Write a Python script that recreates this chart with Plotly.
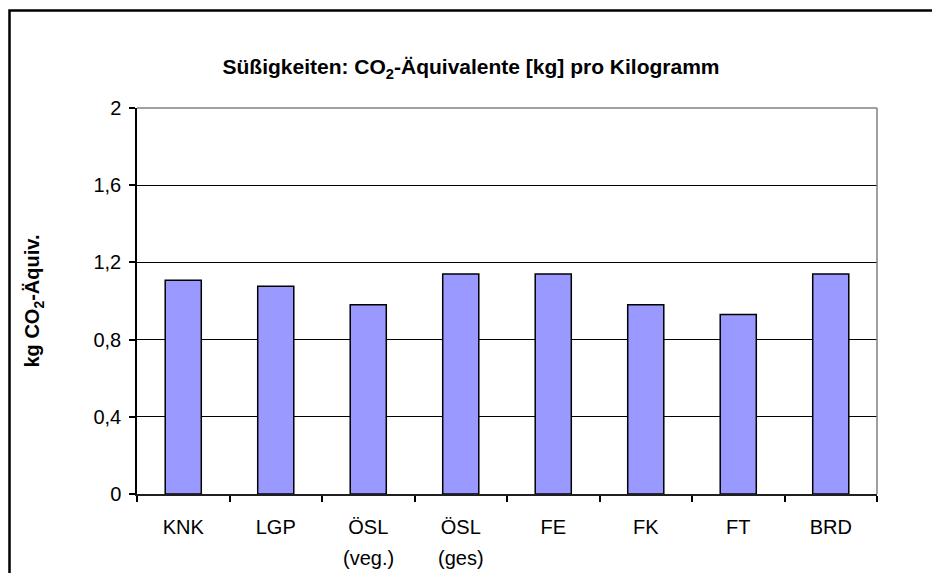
import plotly.graph_objects as go

categories = ["KNK", "LGP", "ÖSL", "ÖSL", "FE", "FK", "FT", "BRD"]
category_ids = ["KNK", "LGP", "ÖSL (veg.)", "ÖSL (ges)", "FE", "FK", "FT", "BRD"]
second_line = ["", "", "(veg.)", "(ges)", "", "", "", ""]
values = [1.107, 1.076, 0.98, 1.14, 1.14, 0.98, 0.93, 1.14]
y_ticks = [0, 0.4, 0.8, 1.2, 1.6, 2]

FONT = "Arial, Liberation Sans, sans-serif"

# the page has an 8px body margin; plot area sits at page x 137..877, y 108..494
W, H = 932, 565
L, R, T, B = 129, 63, 100, 79
PW, PH = W - L - R, H - T - B
OX, OY = 8, 8


def px(page_x):
    return (page_x - OX - L) / PW


def py(page_y):
    return (OY + T + PH - page_y) / PH


fig = go.Figure()
fig.add_trace(go.Bar(
    x=category_ids, y=values,
    marker=dict(color="#9999FF", line=dict(color="#000000", width=1.5)),
    width=0.39,
    hoverinfo="x+y",
))

fig.update_layout(
    width=W, height=H,
    margin=dict(l=L, r=R, t=T, b=B),
    paper_bgcolor="white", plot_bgcolor="white",
    separators=",.",
    showlegend=False,
    font=dict(family=FONT, size=20, color="black"),
    title=dict(
        text="<b>Süßigkeiten: CO<sub>2</sub>-Äquivalente [kg] pro Kilogramm</b>",
        x=px(471), xref="paper", xanchor="center",
        y=(H - (67 - OY)) / H, yref="container", yanchor="middle",
        font=dict(family=FONT, size=21, color="black"),
    ),
)

fig.update_xaxes(
    type="category",
    tickmode="array", tickvals=category_ids, ticktext=categories,
    showline=True, linecolor="#202020", linewidth=1.5,
    ticks="outside", tickson="boundaries", ticklen=6, tickcolor="black", tickwidth=1.5,
    showgrid=False,
    ticklabelstandoff=14,
    tickfont=dict(family=FONT, size=20, color="black"),
)
fig.update_yaxes(
    range=[0, 2], tickvals=y_ticks,
    showline=True, linecolor="black", linewidth=1.5,
    ticks="outside", ticklen=6, tickcolor="black", tickwidth=1.5,
    showgrid=True, gridcolor="black", gridwidth=1,
    zeroline=False,
    tickfont=dict(family=FONT, size=20, color="black"),
    ticklabelstandoff=4,
    title=dict(text="<b>kg CO<sub>2</sub>-Äquiv.</b>", standoff=48,
               font=dict(family=FONT, size=20, color="black")),
)

# second lines of the category labels
for cid, txt in zip(category_ids, second_line):
    if txt:
        fig.add_annotation(x=cid, xref="x", y=py(558), yref="paper",
                           text=txt, showarrow=False, yanchor="middle",
                           font=dict(family=FONT, size=20, color="black"))

# gray plot-area border at top and right
fig.add_shape(type="line", xref="paper", yref="paper", x0=0, x1=1, y0=1, y1=1,
              line=dict(color="#808080", width=1.5), layer="above")
fig.add_shape(type="line", xref="paper", yref="paper", x0=1, x1=1, y0=0, y1=1,
              line=dict(color="#808080", width=1.5), layer="above")

# outer chart frame (extends past right and bottom edges)
fig.add_shape(type="rect", xref="paper", yref="paper",
              x0=px(9.5), x1=px(960),
              y0=py(600), y1=py(10.5),
              line=dict(color="black", width=2.5), layer="above")

fig.write_html("out.html")
